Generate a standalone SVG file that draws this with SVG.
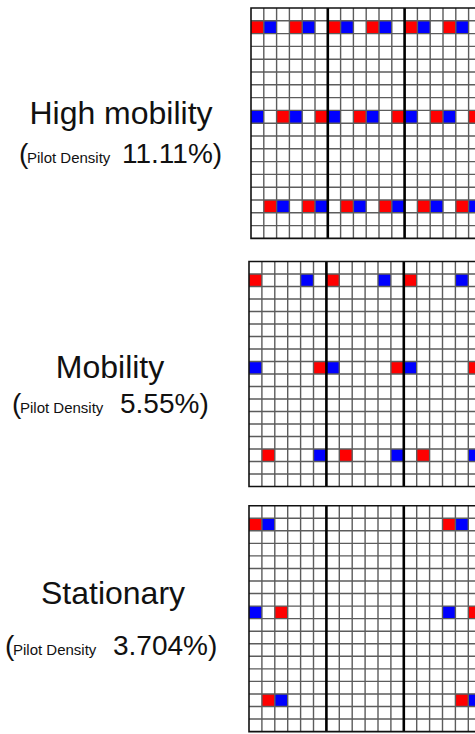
<svg xmlns="http://www.w3.org/2000/svg" xmlns:xlink="http://www.w3.org/1999/xlink" width="475" height="734" viewBox="0 0 475 734">
<style>
.t{font-family:"Liberation Sans",Arial,sans-serif;fill:#111}
.title{font-size:32px}
.big{font-size:28px}
.small{font-size:15px}
.r{fill:#ff0000}
.b{fill:#0000ff}
.thin{fill:none;stroke:#5c5c5c;stroke-width:1.4}
.thick{fill:none;stroke:#000;stroke-width:2.6}
.border{fill:none;stroke:#111;stroke-width:1.6}
.thin,.thick,.border{vector-effect:non-scaling-stroke}
</style>
<defs>
<g id="grid">
<path class="thin" d="M0 1H18M0 2H18M0 3H18M0 4H18M0 5H18M0 6H18M0 7H18M0 8H18M0 9H18M0 10H18M0 11H18M0 12H18M0 13H18M0 14H18M0 15H18M0 16H18M0 17H18M1 0V18M2 0V18M3 0V18M4 0V18M5 0V18M7 0V18M8 0V18M9 0V18M10 0V18M11 0V18M13 0V18M14 0V18M15 0V18M16 0V18M17 0V18"/>
<path class="thick" d="M6 0V18M12 0V18"/>
<rect class="border" x="0" y="0" width="18" height="18"/>
</g>
</defs>
<rect width="475" height="734" fill="#fff"/>

<g id="label-high">
<text class="t title" x="121" y="124" text-anchor="middle">High mobility</text>
<text class="t" y="163"><tspan class="big" x="19">(</tspan><tspan class="small" x="27">Pilot Density</tspan><tspan class="big" x="122">11.11%)</tspan></text>
</g>
<g id="label-mobility">
<text class="t title" x="110" y="378" text-anchor="middle">Mobility</text>
<text class="t" y="413"><tspan class="big" x="12">(</tspan><tspan class="small" x="20">Pilot Density</tspan><tspan class="big" x="120">5.55%)</tspan></text>
</g>
<g id="label-stationary">
<text class="t title" x="113" y="604" text-anchor="middle">Stationary</text>
<text class="t" y="655"><tspan class="big" x="5">(</tspan><tspan class="small" x="13">Pilot Density</tspan><tspan class="big" x="113">3.704%)</tspan></text>
</g>

<g id="grid-high" transform="translate(251,8) scale(12.8)">
<rect x="0" y="0" width="18" height="18" fill="#fff"/>
<g class="r">
<rect x="0" y="1" width="1" height="1"/><rect x="3" y="1" width="1" height="1"/><rect x="6" y="1" width="1" height="1"/><rect x="9" y="1" width="1" height="1"/><rect x="12" y="1" width="1" height="1"/><rect x="15" y="1" width="1" height="1"/>
<rect x="2" y="8" width="1" height="1"/><rect x="5" y="8" width="1" height="1"/><rect x="8" y="8" width="1" height="1"/><rect x="11" y="8" width="1" height="1"/><rect x="14" y="8" width="1" height="1"/><rect x="17" y="8" width="1" height="1"/>
<rect x="1" y="15" width="1" height="1"/><rect x="4" y="15" width="1" height="1"/><rect x="7" y="15" width="1" height="1"/><rect x="10" y="15" width="1" height="1"/><rect x="13" y="15" width="1" height="1"/><rect x="16" y="15" width="1" height="1"/>
</g>
<g class="b">
<rect x="1" y="1" width="1" height="1"/><rect x="4" y="1" width="1" height="1"/><rect x="7" y="1" width="1" height="1"/><rect x="10" y="1" width="1" height="1"/><rect x="13" y="1" width="1" height="1"/><rect x="16" y="1" width="1" height="1"/>
<rect x="0" y="8" width="1" height="1"/><rect x="3" y="8" width="1" height="1"/><rect x="6" y="8" width="1" height="1"/><rect x="9" y="8" width="1" height="1"/><rect x="12" y="8" width="1" height="1"/><rect x="15" y="8" width="1" height="1"/>
<rect x="2" y="15" width="1" height="1"/><rect x="5" y="15" width="1" height="1"/><rect x="8" y="15" width="1" height="1"/><rect x="11" y="15" width="1" height="1"/><rect x="14" y="15" width="1" height="1"/><rect x="17" y="15" width="1" height="1"/>
</g>
<use xlink:href="#grid" href="#grid"/>
</g>

<g id="grid-mobility" transform="translate(249,261.5) scale(12.9,12.5)">
<rect x="0" y="0" width="18" height="18" fill="#fff"/>
<g class="r">
<rect x="0" y="1" width="1" height="1"/><rect x="6" y="1" width="1" height="1"/><rect x="12" y="1" width="1" height="1"/>
<rect x="5" y="8" width="1" height="1"/><rect x="11" y="8" width="1" height="1"/><rect x="17" y="8" width="1" height="1"/>
<rect x="1" y="15" width="1" height="1"/><rect x="7" y="15" width="1" height="1"/><rect x="13" y="15" width="1" height="1"/>
</g>
<g class="b">
<rect x="4" y="1" width="1" height="1"/><rect x="10" y="1" width="1" height="1"/><rect x="16" y="1" width="1" height="1"/>
<rect x="0" y="8" width="1" height="1"/><rect x="6" y="8" width="1" height="1"/><rect x="12" y="8" width="1" height="1"/>
<rect x="5" y="15" width="1" height="1"/><rect x="11" y="15" width="1" height="1"/><rect x="17" y="15" width="1" height="1"/>
</g>
<use xlink:href="#grid" href="#grid"/>
</g>

<g id="grid-stationary" transform="translate(249,505.7) scale(12.9,12.55)">
<rect x="0" y="0" width="18" height="18" fill="#fff"/>
<g class="r">
<rect x="0" y="1" width="1" height="1"/><rect x="15" y="1" width="1" height="1"/>
<rect x="2" y="8" width="1" height="1"/><rect x="17" y="8" width="1" height="1"/>
<rect x="1" y="15" width="1" height="1"/><rect x="16" y="15" width="1" height="1"/>
</g>
<g class="b">
<rect x="1" y="1" width="1" height="1"/><rect x="16" y="1" width="1" height="1"/>
<rect x="0" y="8" width="1" height="1"/><rect x="15" y="8" width="1" height="1"/>
<rect x="2" y="15" width="1" height="1"/><rect x="17" y="15" width="1" height="1"/>
</g>
<use xlink:href="#grid" href="#grid"/>
</g>
</svg>
